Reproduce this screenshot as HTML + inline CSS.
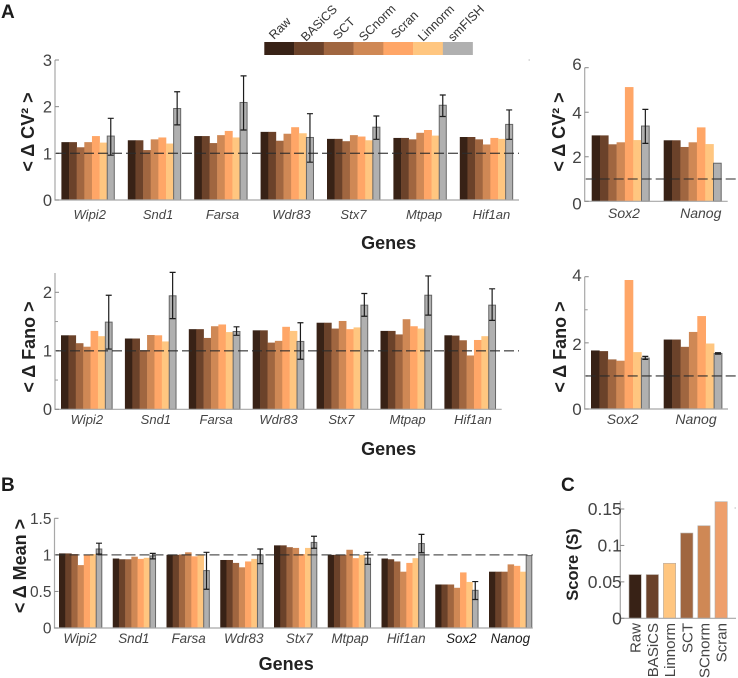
<!DOCTYPE html>
<html>
<head>
<meta charset="utf-8">
<style>
html,body{margin:0;padding:0;background:#fff;}
svg{display:block;font-family:"Liberation Sans",sans-serif;}
</style>
</head>
<body>
<svg id="fig" width="738" height="678" viewBox="0 0 738 678" xmlns="http://www.w3.org/2000/svg"></svg>
<script>
const methods = ['Raw','BASiCS','SCT','SCnorm','Scran','Linnorm','smFISH'];
const methodColors = ['#382216','#6b422a','#a06640','#cf8855','#ffa667','#ffc680','#b0b0b0'];
const genesMain = ['Wipi2','Snd1','Farsa','Wdr83','Stx7','Mtpap','Hif1an'];
const genesSide = ['Sox2','Nanog'];
const genesAll = ['Wipi2','Snd1','Farsa','Wdr83','Stx7','Mtpap','Hif1an','Sox2','Nanog'];

const cvMainValues = [
  [1.24,1.24,1.13,1.24,1.37,1.23,1.37],
  [1.28,1.28,1.07,1.30,1.34,1.21,1.96],
  [1.37,1.37,1.22,1.39,1.48,1.34,2.09],
  [1.46,1.46,1.27,1.42,1.56,1.43,1.34],
  [1.31,1.31,1.26,1.39,1.36,1.28,1.56],
  [1.33,1.33,1.30,1.44,1.50,1.38,2.03],
  [1.35,1.35,1.30,1.19,1.33,1.31,1.62]
];
const cvMainErrHigh = [1.75,2.32,2.66,1.85,1.80,2.25,1.93];
const cvMainErrLow = [0.96,1.61,1.50,0.81,1.30,1.79,1.30];

const fanoMainValues = [
  [1.265,1.265,1.13,1.07,1.34,1.25,1.49],
  [1.21,1.21,1.01,1.27,1.265,1.16,1.94],
  [1.37,1.37,1.22,1.42,1.45,1.32,1.33],
  [1.35,1.35,1.14,1.17,1.41,1.34,1.16],
  [1.48,1.48,1.38,1.51,1.37,1.40,1.78],
  [1.34,1.34,1.28,1.54,1.42,1.38,1.95],
  [1.265,1.26,1.18,0.92,1.185,1.25,1.78]
];
const fanoMainErrHigh = [1.95,2.34,1.41,1.48,1.98,2.28,2.06];
const fanoMainErrLow = [1.03,1.55,1.265,0.855,1.59,1.61,1.52];

const cvSideValues = [
  [2.96,2.96,2.56,2.65,5.13,2.75,3.38],
  [2.74,2.74,2.44,2.65,3.32,2.57,1.71]
];
const cvSideErrHigh = [4.13,null];
const cvSideErrLow = [2.60,null];

const fanoSideValues = [
  [1.77,1.75,1.50,1.46,3.90,1.72,1.54],
  [2.10,2.10,1.88,2.33,2.81,1.98,1.68]
];
const fanoSideErrHigh = [1.59,1.70];
const fanoSideErrLow = [1.50,1.66];

const meanValues = [
  [1.02,1.02,1.01,0.86,1.00,1.01,1.08],
  [0.95,0.94,0.94,0.975,0.945,0.96,0.985],
  [1.00,1.00,1.005,1.035,0.98,1.00,0.785],
  [0.93,0.93,0.89,0.83,0.91,0.945,1.00],
  [1.13,1.13,1.105,1.095,1.01,1.095,1.17],
  [1.00,1.00,1.00,1.07,0.955,1.00,0.955],
  [0.95,0.94,0.91,0.77,0.89,0.955,1.155],
  [0.595,0.595,0.595,0.55,0.76,0.63,0.515],
  [0.77,0.77,0.77,0.87,0.85,0.77,0.99]
];
const meanErrHigh = [1.16,1.02,1.035,1.08,1.255,1.035,1.28,0.635,null];
const meanErrLow = [1.01,0.945,0.53,0.88,1.09,0.87,1.03,0.39,null];

const scoreMethods = ['Raw','BASiCS','Linnorm','SCT','SCnorm','Scran'];
const scoreColors = ['#382216','#6b422a','#ffc680','#a06640','#cf8855','#ee9f6c'];
const scoreValues = [0.06,0.06,0.0755,0.117,0.127,0.16];

const ticksCvMain = [0,1,2,3];
const ticksFanoMain = [0,1,2];
const minorFanoMain = [0.5,1.5];
const ticksCvSide = [0,2,4,6];
const ticksFanoSide = [0,2,4];
const minorFanoSide = [1,3];
const ticksMean = [0,0.5,1,1.5];
const ticksScore = [0,0.05,0.1,0.15];
const scoreTickLabels = ['0','0.05','0.1','0.15'];

const svg = document.getElementById('fig');
const NS = 'http://www.w3.org/2000/svg';

function make(tag, attrs, parent) {
  const el = document.createElementNS(NS, tag);
  for (const k in attrs) el.setAttribute(k, attrs[k]);
  (parent || svg).appendChild(el);
  return el;
}
function addText(str, x, y, size, opts, parent) {
  const o = opts || {};
  const el = make('text', {
    x: x, y: y, 'font-size': size,
    fill: o.fill || '#444',
    'text-anchor': o.anchor || 'middle',
    'font-weight': o.weight || 'normal',
    'font-style': o.italic ? 'italic' : 'normal'
  }, parent);
  if (o.rotate !== undefined) el.setAttribute('transform', 'rotate(' + o.rotate + ' ' + x + ' ' + y + ')');
  el.textContent = str;
  return el;
}

function drawPanel(p) {
  const g = make('g', {}, svg);
  
  
  const yScale = v => p.y0 - (v / p.yMaxTick) * (p.y0 - p.yTop);
  const xGroup = i => p.x0 + i * p.pitch;
  const AXIS = '#a8a8a8';

  p.values.forEach((row, gi) => {
    row.forEach((v, mi) => {
      const isRef = mi === 6;
      const bar = make('rect', {
        x: xGroup(gi) + mi * p.barW,
        y: yScale(v),
        width: isRef ? p.barW - 0.6 : p.barW + 0.3,
        height: p.y0 - yScale(v),
        fill: methodColors[mi]
      }, g);
      if (isRef) {
        bar.setAttribute('stroke', '#666');
        bar.setAttribute('stroke-width', '1');
      }
      
      
    });
  });

  const axes = make('path', {
    d: 'M' + p.axisX + ' ' + p.yAxisTop + 'V' + p.y0 + 'H' + p.axisEnd,
    fill: 'none', stroke: AXIS, 'stroke-width': 1.2
  }, g);
  
  

  p.ticks.forEach((t, i) => {
    const y = yScale(t);
    make('line', {x1: p.axisX, x2: p.axisX + 4, y1: y, y2: y, stroke: '#888', 'stroke-width': 1}, g);
    const nudge = p.tickNudge ? p.tickNudge[i] : 0;
    const label = addText(String(t), p.axisX - 3, y + p.tickSize * 0.36 + nudge, p.tickSize, {anchor: 'end'}, g);
    
    
  });
  (p.minor || []).forEach(t => {
    const y = yScale(t);
    make('line', {x1: p.axisX, x2: p.axisX + 3, y1: y, y2: y, stroke: '#999', 'stroke-width': 1}, g);
  });

  const ref = make('line', {
    x1: p.axisX + 1, x2: p.dashEnd, y1: yScale(1), y2: yScale(1),
    stroke: '#2c2c2c', 'stroke-opacity': 0.8, 'stroke-width': 1.3, 'stroke-dasharray': '10 4'
  }, g);
  
  

  p.errHigh.forEach((hi, gi) => {
    const lo = p.errLow[gi];
    if (hi === null || lo === null) return;
    const cx = xGroup(gi) + 6.5 * p.barW - 0.3;
    const err = make('path', {
      d: 'M' + (cx - 3) + ' ' + yScale(hi) + 'H' + (cx + 3) +
         'M' + cx + ' ' + yScale(hi) + 'V' + yScale(lo) +
         'M' + (cx - 3) + ' ' + yScale(lo) + 'H' + (cx + 3),
      fill: 'none', stroke: '#1c1c1c', 'stroke-width': 1.2
    }, g);
    
    
  });

  p.genes.forEach((name, gi) => {
    const cx = xGroup(gi) + 3.5 * p.barW + p.labelShift[gi];
    const dark = p.darkGenes && p.darkGenes.indexOf(name) >= 0;
    const label = addText(name, cx, p.labelY, p.labelSize, {italic: true, fill: dark ? '#1c1c1c' : '#444'}, g);
    
    
  });

  const yt = addText(p.yTitle, p.yTitleX, p.yTitleY, 18, {weight: 'bold', fill: '#222', rotate: -90}, g);
  
  

  if (p.xTitleX) {
    const xt = addText('Genes', p.xTitleX, p.xTitleY, 18, {weight: 'bold', fill: '#222'}, g);
    
    
  }
}

drawPanel({
  name: 'cv2-main-panel', genes: genesMain, values: cvMainValues, errHigh: cvMainErrHigh, errLow: cvMainErrLow,
  x0: 61.4, pitch: 66.4, barW: 7.64, y0: 200, yTop: 60, yAxisTop: 60, yMaxTick: 3, axisX: 55, axisEnd: 519, dashEnd: 519,
  ticks: ticksCvMain, tickSize: 16.5, labelY: 219, labelSize: 13, labelShift: [1.6,3.5,1.5,4.1,-0.3,3.9,4.9],
  yTitle: '< Δ CV² >', yTitleX: 34, yTitleY: 132, xTitleX: 388.6, xTitleY: 249
});
drawPanel({
  name: 'fano-main-panel', genes: genesMain, values: fanoMainValues, errHigh: fanoMainErrHigh, errLow: fanoMainErrLow,
  x0: 61, pitch: 63.9, barW: 7.39, y0: 409.3, yTop: 292.3, yAxisTop: 273, yMaxTick: 2, axisX: 55, axisEnd: 501.7, dashEnd: 519,
  ticks: ticksFanoMain, minor: minorFanoMain, tickSize: 16.5, labelY: 424, labelSize: 13, labelShift: [0,5.1,1.5,0,-1.1,1.2,2.7],
  yTitle: '< Δ Fano >', yTitleX: 35, yTitleY: 347, xTitleX: 388.6, xTitleY: 455
});
drawPanel({
  name: 'cv2-side-panel', genes: genesSide, values: cvSideValues, errHigh: cvSideErrHigh, errLow: cvSideErrLow,
  x0: 591.7, pitch: 72, barW: 8.3, y0: 201.3, yTop: 67.7, yAxisTop: 67.7, yMaxTick: 6, axisX: 584.7, axisEnd: 727.7, dashEnd: 736,
  ticks: ticksCvSide, tickNudge: [2,0,0,-4], tickSize: 17, labelY: 218, labelSize: 14, labelShift: [3.2,8],
  yTitle: '< Δ CV² >', yTitleX: 565, yTitleY: 132
});
drawPanel({
  name: 'fano-side-panel', genes: genesSide, values: fanoSideValues, errHigh: fanoSideErrHigh, errLow: fanoSideErrLow,
  x0: 591, pitch: 72.7, barW: 8.4, y0: 409, yTop: 276.7, yAxisTop: 276.7, yMaxTick: 4, axisX: 584.7, axisEnd: 728, dashEnd: 738,
  ticks: ticksFanoSide, minor: minorFanoSide, tickNudge: [0,1,-2], tickSize: 17, labelY: 424, labelSize: 14, labelShift: [2.3,2.9],
  yTitle: '< Δ Fano >', yTitleX: 566, yTitleY: 347
});
drawPanel({
  name: 'mean-panel', genes: genesAll, values: meanValues, errHigh: meanErrHigh, errLow: meanErrLow,
  x0: 59, pitch: 53.75, barW: 6.2, y0: 628, yTop: 518.3, yAxisTop: 518.3, yMaxTick: 1.5, axisX: 54.5, axisEnd: 532.8, dashEnd: 532.8,
  ticks: ticksMean, tickSize: 15.5, labelY: 643, labelSize: 13.4, labelShift: [-0.7,-0.6,0.4,1.8,3.6,0.5,3,4.4,-0.4], darkGenes: genesSide,
  yTitle: '< Δ Mean >', yTitleX: 26, yTitleY: 566, xTitleX: 286.2, xTitleY: 670
});

// Stray axis marks visible in the source figure
const strayA = make('rect', {x: 528.5, y: 59.5, width: 1.5, height: 1, fill: '#bbb'}, svg);


const strayC = make('rect', {x: 734.5, y: 507.5, width: 1.5, height: 1, fill: '#bbb'}, svg);



// Score panel (C)
const scoreG = make('g', {}, svg);


const sy0 = 618.3, syPerUnit = (618.3 - 509) / 0.15, sAxisX = 620.3, sx0 = 629, sPitch = 17.2, sBarW = 12.3;
const scoreY = v => sy0 - v * syPerUnit;
const scoreX = i => sx0 + i * sPitch;
scoreValues.forEach((v, i) => {
  const bar = make('rect', {
    x: scoreX(i), y: scoreY(v), width: sBarW, height: sy0 - scoreY(v),
    fill: scoreColors[i], stroke: '#b5aca5', 'stroke-width': 0.6
  }, scoreG);
  
  
  const cx = scoreX(i) + sBarW / 2 + 5.5;
  const lab = addText(scoreMethods[i], cx, 623, 15, {anchor: 'end', rotate: -90}, scoreG);
  
  
});
const scoreAxes = make('path', {
  d: 'M' + sAxisX + ' 500.7V' + sy0 + 'H736', fill: 'none', stroke: '#a8a8a8', 'stroke-width': 1.2
}, scoreG);


ticksScore.forEach((t, i) => {
  const y = scoreY(t);
  make('line', {x1: sAxisX, x2: sAxisX + 4, y1: y, y2: y, stroke: '#888', 'stroke-width': 1}, scoreG);
  const lab = addText(scoreTickLabels[i], sAxisX + 1.5, y + 6.2, 17.5, {anchor: 'end'}, scoreG);
  
  
});
const scoreTitle = addText('Score (S)', 578, 564.5, 16.5, {weight: 'bold', fill: '#222', rotate: -90}, scoreG);



// Legend
const legendG = make('g', {}, svg);


const legendStart = [274,306,338,364,396,423,453];
const legendBase = [40,42,40,42,39,42,42];
methods.forEach((m, i) => {
  const sw = make('rect', {x: 264.3 + i * 29.76, y: 42, width: 30, height: 13, fill: methodColors[i]}, legendG);
  
  
  const t = addText(m, legendStart[i], legendBase[i], 12.5, {anchor: 'start', rotate: -45, fill: '#333'}, legendG);
  
  
});

// Panel letters
[['A', 1, 18], ['B', 1, 491], ['C', 561, 491]].forEach(l => {
  const t = addText(l[0], l[1], l[2], 19, {anchor: 'start', weight: 'bold', fill: '#1c1c1c'});
  
  
});
</script>
</body>
</html>
